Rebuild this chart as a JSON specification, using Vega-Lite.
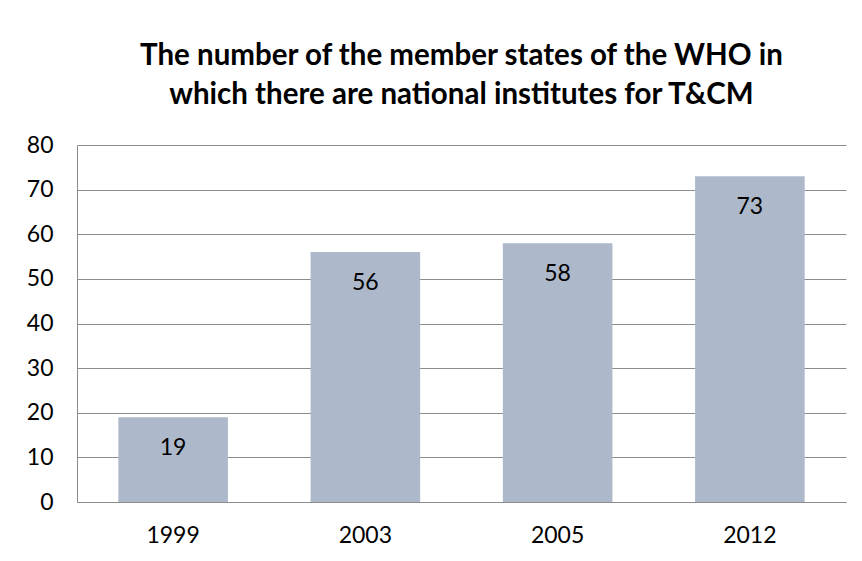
{
  "$schema": "https://vega.github.io/schema/vega-lite/v6.json",
  "width": 769,
  "height": 357,
  "autosize": {"type": "none"},
  "padding": {"left": 77, "top": 145, "right": 16, "bottom": 59},
  "background": "white",
  "config": {
    "font": "Lato",
    "view": {"stroke": null},
    "axis": {"labelFont": "Lato", "labelColor": "black", "labelFontSize": 23, "domainColor": "#8c8c8c", "gridColor": "#8c8c8c", "ticks": false}
  },
  "title": {
    "text": ["The number of the member states of the WHO in", "which there are national institutes for T&CM"],
    "font": "Lato",
    "fontSize": 29.5,
    "fontWeight": "bold",
    "color": "black",
    "anchor": "middle",
    "baseline": "alphabetic",
    "lineHeight": 39,
    "offset": 1
  },
  "data": {
    "values": [
      {"year": "1999", "count": 19},
      {"year": "2003", "count": 56},
      {"year": "2005", "count": 58},
      {"year": "2012", "count": 73}
    ]
  },
  "encoding": {
    "x": {"field": "year", "type": "nominal", "sort": null,
          "scale": {"paddingInner": 0.43, "paddingOuter": 0.215},
          "axis": {"title": null, "labelAngle": 0, "labelPadding": 22, "grid": false}},
    "y": {"field": "count", "type": "quantitative",
          "scale": {"domain": [0, 80]},
          "axis": {"title": null, "values": [0, 10, 20, 30, 40, 50, 60, 70, 80], "labelOverlap": false, "labelPadding": 24, "grid": true}}
  },
  "layer": [
    {
      "mark": {"type": "bar", "color": "#adb9ca"}
    },
    {
      "mark": {"type": "text", "baseline": "middle", "dy": 31, "fontSize": 23, "color": "black", "font": "Lato"},
      "encoding": {
        "text": {"field": "count", "type": "quantitative"}
      }
    }
  ]
}
